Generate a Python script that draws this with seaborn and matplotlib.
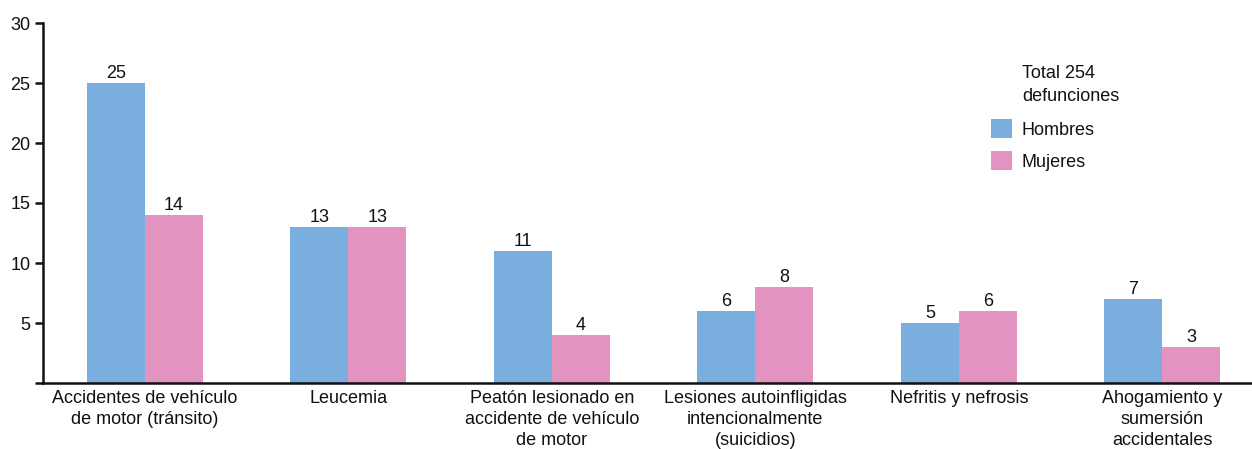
import matplotlib
matplotlib.use("Agg")
import matplotlib.pyplot as plt
import seaborn as sns
import pandas as pd

# Causas de defunción y número de casos por sexo
causas = [
    "Accidentes de vehículo\nde motor (tránsito)",
    "Leucemia",
    "Peatón lesionado en\naccidente de vehículo\nde motor",
    "Lesiones autoinfligidas\nintencionalmente\n(suicidios)",
    "Nefritis y nefrosis",
    "Ahogamiento y\nsumersión\naccidentales",
]
hombres = [25, 13, 11, 6, 5, 7]
mujeres = [14, 13, 4, 8, 6, 3]
sexos = ["Hombres", "Mujeres"]
colores = ["#7aaedf", "#e293c0"]
y_ticks = [0, 5, 10, 15, 20, 25, 30]
y_tick_labels = ["", "5", "10", "15", "20", "25", "30"]
titulo_leyenda = "Total 254\ndefunciones"

df = pd.DataFrame({
    "causa": causas * 2,
    "sexo": [sexos[0]] * len(causas) + [sexos[1]] * len(causas),
    "valor": hombres + mujeres,
})

sns.set_theme(style="white")
plt.rcParams["font.family"] = ["Liberation Sans", "DejaVu Sans"]
FS = 13
INK = "#111111"

fig = plt.figure(figsize=(12.52, 4.49), dpi=100)
ax = fig.add_axes([43 / 1252, 1 - 383 / 449, 1 - 43 / 1252, (383 - 23) / 449])

sns.barplot(data=df, x="causa", y="valor", hue="sexo", order=causas,
            hue_order=sexos, palette=colores, width=0.57, saturation=1,
            edgecolor="none", linewidth=0, ax=ax)

for cont in ax.containers:
    ax.bar_label(cont, padding=1, fontsize=FS, color=INK)

ax.set_ylim(0, 30)
ax.set_xlim(-0.5, 5.44)
ax.set_yticks(y_ticks)
ax.set_yticklabels(y_tick_labels, fontsize=FS, color=INK)
ax.set_xticks(range(len(causas)))
ax.set_xticklabels(causas, fontsize=FS, color=INK, linespacing=1.3)
ax.set_xlabel("")
ax.set_ylabel("")

for side in ("top", "right"):
    ax.spines[side].set_visible(False)
for side in ("left", "bottom"):
    ax.spines[side].set_color(INK)
    ax.spines[side].set_linewidth(1.8)
ax.tick_params(axis="y", length=6, width=1.8, color=INK, pad=3, left=True)
ax.tick_params(axis="x", length=0, pad=5)

leg = ax.legend(loc="upper left", bbox_to_anchor=(0.784, 0.733),
                frameon=False, fontsize=FS, borderpad=0, borderaxespad=0,
                handlelength=1.17, handleheight=1.25, handletextpad=0.55,
                labelspacing=0.7)
for t in leg.get_texts():
    t.set_color(INK)

ax.text(0.8098, 0.883, titulo_leyenda, transform=ax.transAxes, ha="left",
        va="top", fontsize=FS, color=INK, linespacing=1.45)

fig.savefig("out.png", dpi=100)
